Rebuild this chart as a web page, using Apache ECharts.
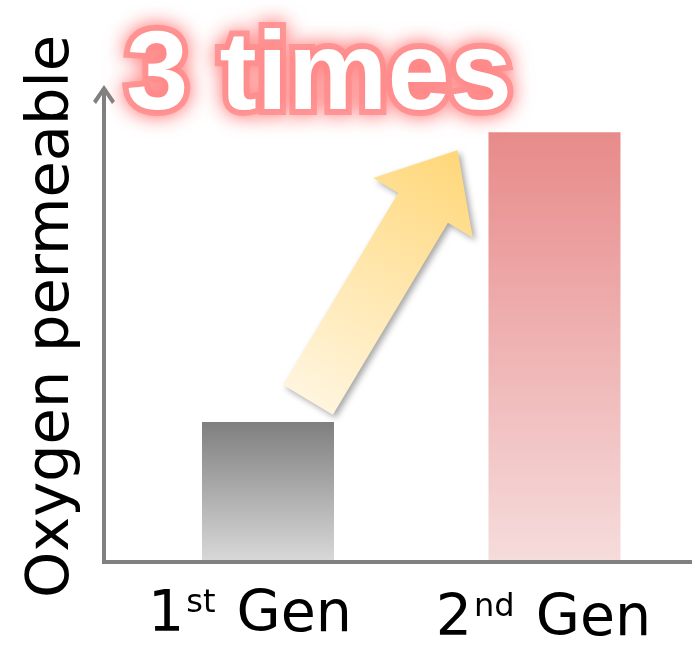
<!DOCTYPE html>
<html>
<head>
<meta charset="utf-8">
<script src="https://cdn.jsdelivr.net/npm/echarts@6/dist/echarts.min.js"></script>
<style>
  html, body { margin: 0; padding: 0; background: #ffffff; }
  #chart { width: 692px; height: 649px; }
</style>
</head>
<body>
<div id="chart"></div>
<script>
// Generations compared and their oxygen permeability (relative units)
const categories = ['1st Gen', '2nd Gen'];
const permeability = [30, 92];
const yAxisName = 'Oxygen permeable';
const headline = '3 times';

// Bar gradients: [top colour, bottom colour]
const barColors = [
  ['#7f7f7f', '#d9d9d9'],
  ['#e88a8a', '#f6dcdc']
];

const axisGray = '#808080';
const barWidth = 132;

// "1st Gen" -> number, ordinal suffix (superscript), word
function splitLabel(text) {
  const m = text.match(/^(\d+)(\D+?) (.*)$/);
  return m ? { num: m[1], sup: m[2], word: m[3] } : { num: text, sup: '', word: '' };
}

// Per-label nudges so each label sits under its bar
const labelShift = [
  { right: 36, down: 0 },
  { right: 22, down: 8 }
];

const rich = {};
labelShift.forEach(function (s, i) {
  const base = { fontFamily: 'DejaVu Sans', fontSize: 57, color: '#000', lineHeight: 57 };
  rich['n' + i] = Object.assign({}, base, { padding: [s.down, 0, 0, 0] });
  rich['w' + i] = Object.assign({}, base, { padding: [s.down, s.right, 0, 0] });
  rich['s' + i] = { fontFamily: 'DejaVu Sans', fontSize: 32, lineHeight: 32, color: '#000',
                    padding: [s.down, 3, 26, 2] };
});

const barData = permeability.map(function (v, i) {
  return {
    value: [i + 1, v],
    itemStyle: {
      color: new echarts.graphic.LinearGradient(0, 0, 0, 1, [
        { offset: 0, color: barColors[i][0] },
        { offset: 1, color: barColors[i][1] }
      ])
    }
  };
});

const chart = echarts.init(document.getElementById('chart'), null, { renderer: 'canvas' });

const option = {
  animation: false,
  backgroundColor: '#ffffff',
  title: {
    text: headline,
    left: 126,
    top: 22,
    padding: 0,
    textStyle: {
      fontFamily: 'Liberation Sans',
      fontWeight: 'bold',
      fontSize: 112,
      color: '#ffffff',
      textBorderColor: 'rgba(255,150,150,0.95)',
      textBorderWidth: 12,
      textShadowColor: '#ff8080',
      textShadowBlur: 20
    }
  },
  grid: {
    left: 104,
    right: 0,
    top: 95,
    bottom: 87,
    outerBoundsMode: 'none'
  },
  xAxis: {
    type: 'value',
    min: 0.4276,
    max: 2.48,
    z: 3,
    splitLine: { show: false },
    axisTick: { show: false },
    axisLine: {
      show: true,
      onZero: false,
      lineStyle: { color: axisGray, width: 4, cap: 'square' }
    },
    axisLabel: {
      show: true,
      customValues: [1, 2],
      margin: 26,
      formatter: function (v) {
        const i = Math.round(v) - 1;
        const p = splitLabel(categories[i]);
        return '{n' + i + '|' + p.num + '}{s' + i + '|' + p.sup + '}{w' + i + '| ' + p.word + '}';
      },
      rich: rich
    }
  },
  yAxis: {
    type: 'value',
    min: 0,
    max: 100,
    z: 3,
    splitLine: { show: false },
    axisTick: { show: false },
    axisLabel: { show: false },
    axisLine: {
      show: true,
      onZero: false,
      symbol: ['none', 'path://M11,0 L22,16 L19,19 L13,10 L13,20 L9,20 L9,10 L3,19 L0,16 Z'],
      symbolSize: [22, 20],
      lineStyle: { color: axisGray, width: 4, cap: 'square' }
    },
    name: yAxisName,
    nameLocation: 'middle',
    nameRotate: 90,
    nameGap: 22,
    nameTextStyle: {
      fontFamily: 'DejaVu Sans',
      fontSize: 59,
      color: '#000',
      padding: [0, 0, 0, 24]
    }
  },
  series: [{
    type: 'bar',
    data: barData,
    barWidth: barWidth,
    z: 2
  }]
};

chart.setOption(option);

// Block arrow rising from the first bar towards the second one
const p1 = chart.convertToPixel({ gridIndex: 0 }, [1, permeability[0]]);
const p2 = chart.convertToPixel({ gridIndex: 0 }, [2, permeability[1]]);
const tail = [p1[0] + 40, p1[1] - 22];
const tip = [p2[0] - barWidth / 2 - 31, p2[1] + 18];
const dx = tip[0] - tail[0], dy = tip[1] - tail[1];
const len = Math.sqrt(dx * dx + dy * dy);
const u = [dx / len, dy / len];
const n = [-u[1], u[0]];
const shaftHalf = 29, headHalf = 58, headLen = 67;
function at(s, w) {
  return [tail[0] + u[0] * s + n[0] * w, tail[1] + u[1] * s + n[1] * w];
}
const hb = len - headLen;
const arrowPts = [
  at(0, -shaftHalf), at(0, shaftHalf),
  at(hb, shaftHalf), at(hb, headHalf),
  tip,
  at(hb, -headHalf), at(hb, -shaftHalf)
];

chart.setOption({
  graphic: [{
    type: 'polygon',
    z: 10,
    silent: true,
    shape: { points: arrowPts },
    style: {
      fill: new echarts.graphic.LinearGradient(tail[0], tail[1], tip[0], tip[1], [
        { offset: 0, color: '#fff5de' },
        { offset: 1, color: '#ffd779' }
      ], true),
      shadowBlur: 6,
      shadowOffsetX: 3,
      shadowOffsetY: 3,
      shadowColor: 'rgba(0,0,0,0.35)'
    }
  }]
});
</script>
</body>
</html>
